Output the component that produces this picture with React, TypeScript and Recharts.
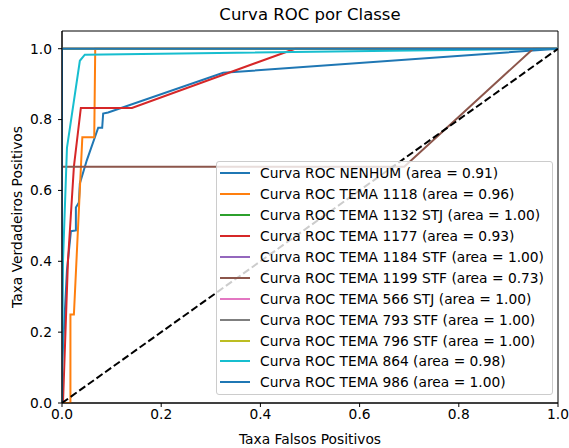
import { LineChart, Line, XAxis, YAxis, Legend, ReferenceArea } from 'recharts'

const classNames = [
  'NENHUM',
  'TEMA 1118',
  'TEMA 1132 STJ',
  'TEMA 1177',
  'TEMA 1184 STF',
  'TEMA 1199 STF',
  'TEMA 566 STJ',
  'TEMA 793 STF',
  'TEMA 796 STF',
  'TEMA 864',
  'TEMA 986',
]
const aucLabels = ['0.91', '0.96', '1.00', '0.93', '1.00', '0.73', '1.00', '1.00', '1.00', '0.98', '1.00']
const colors = [
  '#1f77b4', '#ff7f0e', '#2ca02c', '#d62728', '#9467bd', '#8c564b',
  '#e377c2', '#7f7f7f', '#bcbd22', '#17becf', '#1f77b4',
]

// curve points
const fprNenhum = [0, 0, 0.01, 0.018, 0.028, 0.028, 0.034, 0.036, 0.05, 0.073, 0.081, 0.083, 0.093, 0.325, 1]
const tprNenhum = [0, 0.1, 0.375, 0.485, 0.487, 0.552, 0.566, 0.62, 0.685, 0.777, 0.777, 0.817, 0.82, 0.932, 1]
const fpr1118 = [0, 0.017, 0.017, 0.024, 0.041, 0.065, 0.067, 1]
const tpr1118 = [0, 0, 0.25, 0.25, 0.75, 0.75, 1, 1]
const fpr1177 = [0, 0.002, 0.012, 0.024, 0.038, 0.141, 0.47, 1]
const tpr1177 = [0, 0, 0.4, 0.667, 0.833, 0.833, 1, 1]
const fpr1199 = [0, 0, 0.69, 0.95, 1]
const tpr1199 = [0, 0.667, 0.667, 1, 1]
const fpr864 = [0, 0.002, 0.01, 0.036, 0.046, 1]
const tpr864 = [0, 0.4, 0.72, 0.966, 0.983, 1]
const fprPerfect = [0, 0, 1]
const tprPerfect = [0, 1, 1]
const chanceFpr = [0, 1]
const chanceTpr = [0, 1]

const xTicks = [0, 0.2, 0.4, 0.6, 0.8, 1]
const yTicks = [0, 0.2, 0.4, 0.6, 0.8, 1]

const curveFpr = [fprNenhum, fpr1118, fprPerfect, fpr1177, fprPerfect, fpr1199, fprPerfect, fprPerfect, fprPerfect, fpr864, fprPerfect]
const curveTpr = [tprNenhum, tpr1118, tprPerfect, tpr1177, tprPerfect, tpr1199, tprPerfect, tprPerfect, tprPerfect, tpr864, tprPerfect]

const toPoints = (xs: number[], ys: number[]) => xs.map((x, i) => ({ x, y: ys[i] }))

const font = 'DejaVu Sans, sans-serif'
const fs = 13.8

function RocLegend() {
  return (
    <div
      style={{
        width: 337,
        height: 234,
        boxSizing: 'border-box',
        border: '1px solid #cccccc',
        borderRadius: 3,
        background: 'rgba(255,255,255,0.8)',
        paddingTop: 1,
        paddingLeft: 3,
        fontFamily: font,
        fontSize: fs,
        color: '#000',
      }}
    >
      {classNames.map((name, i) => (
        <div key={i} style={{ display: 'flex', alignItems: 'center', height: 20.9, whiteSpace: 'nowrap' }}>
          <span style={{ display: 'inline-block', width: 30, height: 2, background: colors[i], marginRight: 10 }} />
          <span>{`Curva ROC ${name} (area = ${aucLabels[i]})`}</span>
        </div>
      ))}
    </div>
  )
}

export default function App() {
  return (
    <div style={{ position: 'absolute', left: 0, top: 0, width: 569, height: 448, background: '#fff' }}>
      <div
        style={{
          position: 'absolute',
          left: 62,
          width: 496,
          top: 5,
          textAlign: 'center',
          fontFamily: font,
          fontSize: 16.5,
          color: '#000',
          zIndex: 2,
        }}
      >
        Curva ROC por Classe
      </div>
      <LineChart width={569} height={448} margin={{ top: 31, right: 11, bottom: 0, left: 12 }}>
        <XAxis
          type="number"
          dataKey="x"
          domain={[0, 1]}
          ticks={xTicks}
          allowDataOverflow
          tickFormatter={(v: number) => v.toFixed(1)}
          height={45}
          tickSize={4}
          tickMargin={2}
          stroke="#000"
          tick={{ fill: '#000', fontSize: fs, fontFamily: font }}
          label={{ value: 'Taxa Falsos Positivos', position: 'insideBottom', offset: 4, fill: '#000', fontSize: fs, fontFamily: font }}
        />
        <YAxis
          type="number"
          dataKey="y"
          domain={[0, 1.05]}
          ticks={yTicks}
          allowDataOverflow
          tickFormatter={(v: number) => v.toFixed(1)}
          width={50}
          tickSize={4}
          tickMargin={6}
          stroke="#000"
          tick={{ fill: '#000', fontSize: fs, fontFamily: font }}
          label={{ value: 'Taxa Verdadeiros Positivos', angle: -90, position: 'insideLeft', textAnchor: 'middle', offset: 5, fill: '#000', fontSize: fs, fontFamily: font }}
        />
        {classNames.map((name, i) => (
          <Line
            key={name}
            data={toPoints(curveFpr[i], curveTpr[i])}
            dataKey="y"
            name={name}
            type="linear"
            stroke={colors[i]}
            strokeWidth={2}
            dot={false}
            activeDot={false}
            isAnimationActive={false}
          />
        ))}
        <Line
          data={toPoints(chanceFpr, chanceTpr)}
          dataKey="y"
          type="linear"
          stroke="#000"
          strokeWidth={2}
          strokeDasharray="7.4 3.2"
          dot={false}
          activeDot={false}
          legendType="none"
          isAnimationActive={false}
        />
        <ReferenceArea x1={0} x2={1} y1={0} y2={1.05} fill="none" stroke="#000" strokeWidth={1} ifOverflow="visible" />
        <Legend
          layout="vertical"
          align="center"
          verticalAlign="middle"
          content={() => <RocLegend />}
          wrapperStyle={{ left: 216, top: 161, width: 337 }}
        />
      </LineChart>
    </div>
  )
}
